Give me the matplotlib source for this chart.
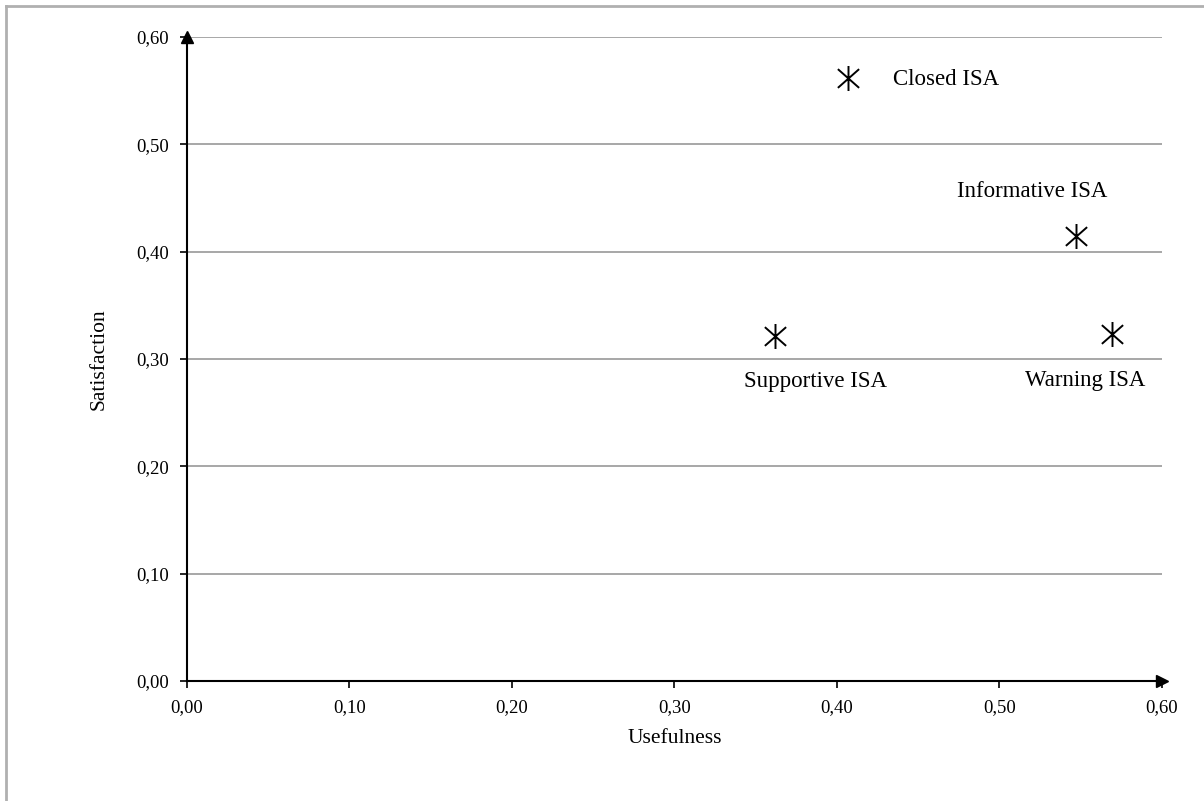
import matplotlib.pyplot as plt
from matplotlib.path import Path
from matplotlib.lines import Line2D

# data
names = ['Closed ISA', 'Informative ISA', 'Supportive ISA', 'Warning ISA']
usefulness = [0.407, 0.547, 0.362, 0.569]
satisfaction = [0.562, 0.415, 0.321, 0.323]
ticks = [0.0, 0.1, 0.2, 0.3, 0.4, 0.5, 0.6]

plt.rcParams['font.family'] = ['Liberation Serif', 'DejaVu Serif']

fig = plt.figure(figsize=(12.04, 8.01), dpi=100)
ax = fig.add_axes([0.1553, 0.1498, 0.8098, 0.804])

# asterisk marker: vertical stroke plus an X
star = Path([(0, -1), (0, 1), (-0.85, -0.75), (0.85, 0.75), (-0.85, 0.75), (0.85, -0.75)],
            [Path.MOVETO, Path.LINETO, Path.MOVETO, Path.LINETO, Path.MOVETO, Path.LINETO])
ax.plot(usefulness, satisfaction, linestyle='none', marker=star, markersize=18,
        markeredgewidth=1.4, color='black', zorder=3)

# labels placed like the original
offsets = {'Closed ISA': (45, -2, 'left'),
           'Informative ISA': (-44, 44, 'center'),
           'Supportive ISA': (40, -45, 'center'),
           'Warning ISA': (-26, -46, 'center')}
for n, x, y in zip(names, usefulness, satisfaction):
    dx, dy, ha = offsets[n]
    ax.annotate(n, (x, y), xytext=(dx, dy), textcoords='offset pixels',
                ha=ha, va='center', fontsize=16.5)

ax.set_xlim(0, 0.6)
ax.set_ylim(0, 0.6)
ax.set_xticks(ticks)
ax.set_yticks(ticks)
ax.set_xticklabels([f'{t:.2f}'.replace('.', ',') for t in ticks], fontsize=13.5)
ax.set_yticklabels([f'{t:.2f}'.replace('.', ',') for t in ticks], fontsize=13.5)
ax.tick_params(direction='out', length=5, width=1.2)
ax.tick_params(axis='x', pad=8)
ax.tick_params(axis='y', pad=8)

for t in ticks[1:]:
    ax.axhline(t, color='#a0a0a0', linewidth=1.3, zorder=1)

for s in ['top', 'right']:
    ax.spines[s].set_visible(False)
for s in ['left', 'bottom']:
    ax.spines[s].set_linewidth(1.5)

# arrow heads on the axes
ax.plot([0], [0.6], marker='^', markersize=8, color='black', clip_on=False, zorder=4)
ax.plot([0.6], [0], marker='>', markersize=8, color='black', clip_on=False, zorder=4)

ax.set_xlabel('Usefulness', fontsize=15.5, labelpad=9)
ax.set_ylabel('Satisfaction', fontsize=15.5, labelpad=20)

# light frame on top and left of the figure
fig.add_artist(Line2D([6 / 1204, 1], [1 - 6 / 801, 1 - 6 / 801], color='#b0b0b0', linewidth=2))
fig.add_artist(Line2D([6 / 1204, 6 / 1204], [0, 1 - 6 / 801], color='#b0b0b0', linewidth=2))

fig.savefig('out.png', dpi=100)
